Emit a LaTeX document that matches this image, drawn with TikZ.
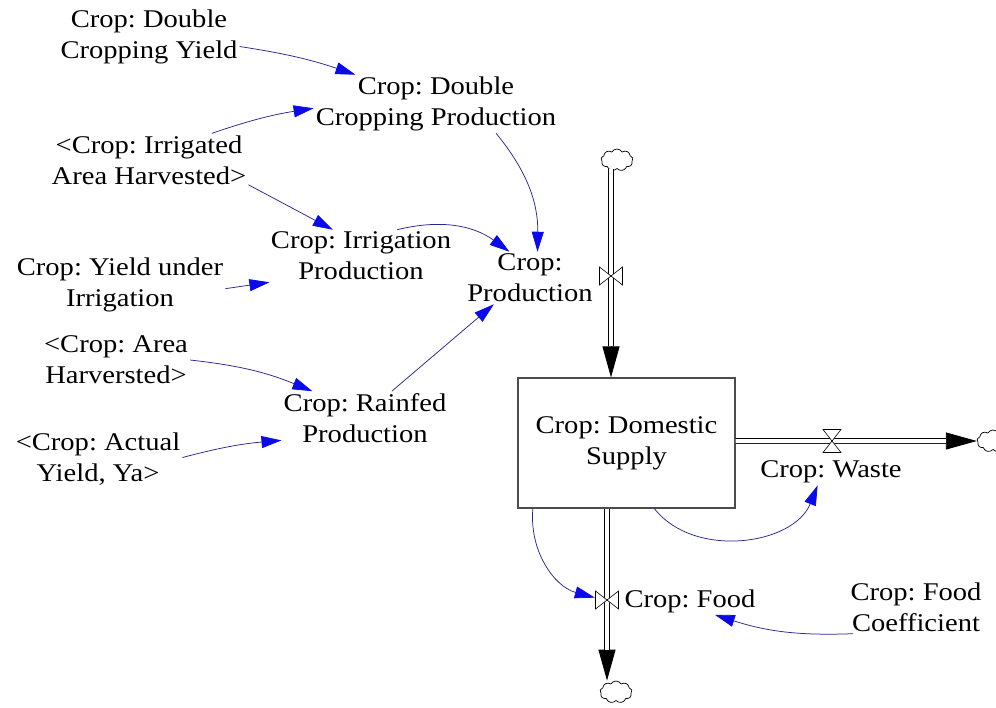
\documentclass[tikz,border=0pt]{standalone}
\usepackage{fontspec}
\setmainfont{Liberation Serif}[FakeStretch=1.12]
\usetikzlibrary{arrows.meta,shapes.symbols}
\definecolor{linkline}{RGB}{40,40,140}
\definecolor{linkhead}{RGB}{10,10,235}
\frenchspacing
\tikzset{
  var/.style={align=center, inner sep=2pt, font=\fontsize{25.5}{31}\selectfont\frenchspacing},
  stockbox/.style={var, draw=black!70, line width=1.1pt, minimum width=217pt, minimum height=130pt},
  link/.style={draw=linkline, line width=0.75pt, -{Triangle[length=20pt,width=12pt,color=linkhead]}},
  pipe/.style={draw=black, double=white, double distance=4pt, line width=0.9pt},
  flowhead/.style={line width=0.9pt, -{Triangle[length=31pt,width=17pt]}},
  cloudy/.style={cloud, draw, cloud puffs=9, cloud puff arc=120, aspect=1.5, minimum width=32pt, minimum height=22pt, inner sep=0pt, line width=0.7pt},
  valve/.style={inner sep=0pt, minimum width=24pt, minimum height=18pt},
  pics/bowtie/.style={code={\draw[fill=white, line width=0.6pt] (-11.5,9) -- (11.5,-9) -- (11.5,9) -- (-11.5,-9) -- cycle;}}
}
\begin{document}
\begin{tikzpicture}[x=1pt,y=1pt]
  \useasboundingbox (0,0) rectangle (996,-707);
  % variables
  \node[var] (dcy) at (149,-37) {Crop: Double\\Cropping Yield};
  \node[var] (dcp) at (436,-104) {Crop: Double\\Cropping Production};
  \node[var] (iah) at (149,-160) {<Crop: Irrigated\\Area Harvested>};
  \node[var] (irp) at (361,-256) {Crop: Irrigation\\Production};
  \node[var] (prod) at (530,-278) {Crop:\\Production};
  \node[var] (yui) at (120,-285) {Crop: Yield under\\Irrigation};
  \node[var] (ah) at (116,-360) {<Crop: Area\\Harversted>};
  \node[var] (rfp) at (365,-418) {Crop: Rainfed\\Production};
  \node[var] (ayy) at (98,-459) {<Crop: Actual\\Yield, Ya>};
  \node[stockbox] (dom) at (626.5,-443) {Crop: Domestic\\Supply};
  \node[var] (waste) at (831,-472) {Crop: Waste};
  \node[var] (food) at (690,-601) {Crop: Food};
  \node[var] (fc) at (916,-607) {Crop: Food\\Coefficient};
  % clouds and valves
  \node[cloudy] (cin) at (617,-160) {};
  \node[cloudy] (cwaste) at (993,-441) {};
  \node[cloudy] (cfood) at (616,-692) {};
  \node[valve] (vin) at (611,-276) {};
  \node[valve] (vwaste) at (832,-441) {};
  \node[valve] (vfood) at (607,-600) {};
  % flows
  \draw[flowhead] (vin |- cin.south) -- (vin |- dom.north);
  \draw[pipe, shorten >=31pt] (vin |- cin.south) -- (vin |- dom.north);
  \draw[flowhead] (dom.east |- cwaste) -- (cwaste);
  \draw[pipe, shorten >=31pt] (dom.east |- cwaste) -- (cwaste);
  \draw[flowhead] (vfood |- dom.south) -- (vfood |- cfood.north);
  \draw[pipe, shorten >=31pt] (vfood |- dom.south) -- (vfood |- cfood.north);
  \pic at (vin) {bowtie};
  \pic[rotate=90] at (vwaste) {bowtie};
  \pic at (vfood) {bowtie};
  % links
  \draw[link] (dcy.-6) to[bend left=5] (dcp.160);
  \draw[link] (iah.23) to[bend left=5] (dcp.182);
  \draw[link] (iah.-14) -- (irp.137);
  \draw[link] (dcp.-26) to[bend left=20] (prod.74);
  \draw[link] (irp.36) to[bend left=25] (prod.128);
  \draw[link] (yui.-2) -- (irp.196);
  \draw[link] (ah.0) to[bend left=8] (rfp.153);
  \draw[link] (ayy.1) to[bend left=5] (rfp.195);
  \draw[link] (rfp.45) -- (prod.216);
  \draw[link] (dom.-67) to[bend right=60] (waste.225);
  \draw[link] (dom.215) to[bend right=40] (vfood);
  \draw[link] (fc.203) to[bend left=10] (food.-29);
\end{tikzpicture}
\end{document}
